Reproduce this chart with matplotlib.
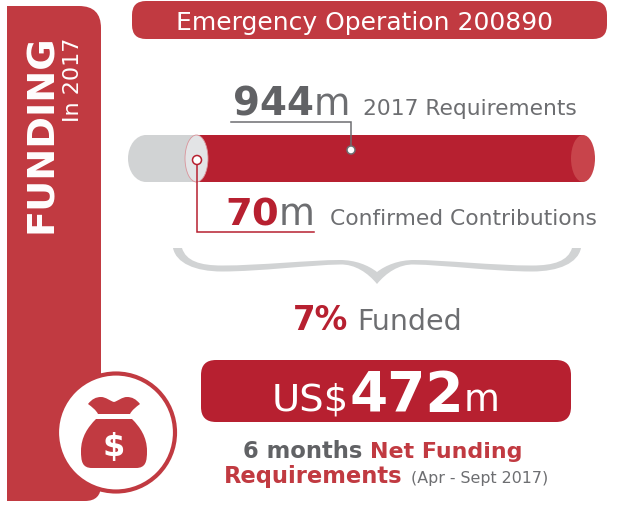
import matplotlib
matplotlib.use("Agg")
import matplotlib.pyplot as plt
from matplotlib.patches import PathPatch, Circle, Ellipse, Rectangle
from matplotlib.path import Path

operation = "Emergency Operation 200890"
requirements = 944
contributions = 70
funded_pct = 7
net_requirements = 472

RED = "#B72030"
PANEL = "#C13A41"
GREY = "#D1D3D4"
TXT = "#6D6E71"
DARK = "#616265"

plt.rcParams["font.family"] = ["DejaVu Sans"]
fig = plt.figure(figsize=(6.2, 5.06), dpi=100)
ax = fig.add_axes([0, 0, 1, 1])
ax.set_xlim(0, 620)
ax.set_ylim(506, 0)
ax.axis("off")


def rrect(x0, y0, x1, y1, tl, tr, br, bl, **kw):
    M, L, C = Path.MOVETO, Path.LINETO, Path.CURVE3
    v = [(x0 + tl, y0), (x1 - tr, y0), (x1, y0), (x1, y0 + tr), (x1, y1 - br), (x1, y1),
         (x1 - br, y1), (x0 + bl, y1), (x0, y1), (x0, y1 - bl), (x0, y0 + tl), (x0, y0),
         (x0 + tl, y0), (x0 + tl, y0)]
    c = [M, L, C, C, L, C, C, L, C, C, L, C, C, Path.CLOSEPOLY]
    p = PathPatch(Path(v, c), **kw)
    ax.add_patch(p)
    return p


def runs(x, y, parts):
    r = fig.canvas.get_renderer()
    for s, size, weight, col, gap in parts:
        t = ax.text(x, y, s, fontsize=size, fontweight=weight, color=col, va="baseline", ha="left")
        x = ax.transData.inverted().transform(t.get_window_extent(r).get_points())[1, 0] + gap


# side panel and header
rrect(7, 7, 101, 502, 0, 22, 16, 0, fc=PANEL, ec="none", zorder=1)
rrect(132, 2, 607, 40, 14, 14, 14, 14, fc=PANEL, ec="none", zorder=1)
ax.text(364, 30, operation, fontsize=18, color="white", ha="center", va="baseline")
ax.text(42, 134, "FUNDING", fontsize=27.5, fontweight="bold", color="white", rotation=90,
        ha="center", va="center", rotation_mode="anchor")
ax.text(73, 80, "In 2017", fontsize=16, color="white", rotation=90, ha="center", va="center",
        rotation_mode="anchor")

# cylinder
ax.add_patch(Ellipse((146, 159.5), 36, 47, fc=GREY, ec="none", zorder=2))
ax.add_patch(Rectangle((146, 136), 50, 47, fc=GREY, ec="none", zorder=2))
ax.add_patch(Rectangle((196, 136), 387, 47, fc=RED, ec="none", zorder=2))
ax.add_patch(Ellipse((583, 159.5), 24, 47, fc="#C8444B", ec="none", zorder=3))
ax.add_patch(Ellipse((196.5, 159.5), 23, 47, fc="#E3E4E6", ec="#D9939A", lw=0.6, zorder=3))

# 944 callout
ax.plot([231, 351, 351], [122.5, 122.5, 151], color=TXT, lw=1.1, zorder=4, solid_joinstyle="miter")
ax.add_patch(Circle((351, 151), 4, fc="white", ec=TXT, lw=1.1, zorder=5))
runs(233, 115, [(f"{requirements}", 28, "bold", DARK, 0), ("m", 27, "normal", TXT, 13),
                ("2017 Requirements", 15.7, "normal", TXT, 0)])

# 70 callout
ax.plot([197, 197, 314], [161, 232.5, 232.5], color=RED, lw=1.1, zorder=4, solid_joinstyle="miter")
ax.add_patch(Circle((197, 161), 4.5, fc="white", ec=RED, lw=1.1, zorder=5))
runs(225, 225, [(f"{contributions}", 27.7, "bold", RED, 0), ("m", 26.6, "normal", TXT, 15),
                ("Confirmed Contributions", 15.7, "normal", TXT, 0)])

# brace
C4 = Path.CURVE4
left_lower = [(173, 249), (176, 264), (195, 272.5), (222, 272.5), (260, 272.5), (310, 266),
              (340, 265.5), (355, 265), (368, 274), (377, 285)]
left_upper = [(377, 273), (368, 266), (355, 261), (340, 261), (310, 261), (260, 266.5),
              (222, 266.5), (200, 266.5), (186, 262), (182, 249)]
right_lower = [(754 - x, y) for x, y in reversed(left_lower)]
right_upper = [(754 - x, y) for x, y in reversed(left_upper)]
verts = left_lower + right_lower[1:] + [right_upper[0]] + right_upper[1:] + left_upper[1:] + [left_lower[0]]
codes = ([Path.MOVETO] + [C4] * 18 + [Path.LINETO] + [C4] * 18 + [Path.LINETO])
ax.add_patch(PathPatch(Path(verts, codes), fc=GREY, ec="none", zorder=2))

runs(293, 330, [(f"{funded_pct}%", 23.5, "bold", RED, 9), ("Funded", 20.5, "normal", TXT, 0)])

# net funding pill
rrect(201, 361, 571, 423, 15, 15, 15, 15, fc=RED, ec="none", zorder=1)
runs(272, 411, [("US$", 27.7, "normal", "white", 0),
                (f"{net_requirements}", 39.5, "bold", "white", 0),
                ("m", 26.5, "normal", "white", 0)])

runs(243, 458, [("6 months", 16.3, "bold", DARK, 8), ("Net Funding", 15.9, "bold", PANEL, 0)])
runs(224, 483, [("Requirements", 16.3, "bold", PANEL, 8), ("(Apr - Sept 2017)", 11.4, "normal", TXT, 0)])

# money bag icon
ax.add_patch(Circle((116, 433.5), 59, fc="white", ec=PANEL, lw=3, zorder=3))
bag_top = Path(
    [(88, 405), (92, 400), (96, 398), (101, 398), (106, 398), (110, 402), (114, 403),
     (118, 402), (122, 398), (127, 398), (132, 398), (136, 400), (140, 405),
     (136, 408), (132, 411), (130, 415), (98, 415), (96, 411), (92, 408), (88, 405)],
    [Path.MOVETO] + [C4] * 15 + [Path.LINETO] + [C4] * 3)
ax.add_patch(PathPatch(bag_top, fc=PANEL, ec="none", zorder=4))
bag = Path(
    [(96, 420), (132, 420), (140, 428), (147, 438), (147, 452), (147, 462), (146, 469), (136, 469),
     (92, 469), (82, 469), (81, 462), (81, 452), (81, 438), (88, 428), (96, 420)],
    [Path.MOVETO, Path.LINETO, C4, C4, C4, C4, C4, C4, Path.LINETO, C4, C4, C4, C4, C4, C4])
ax.add_patch(PathPatch(bag, fc=PANEL, ec="none", zorder=4))
ax.text(114, 456, "$", fontsize=23, fontweight="bold", color="white", ha="center", va="baseline", zorder=5)

fig.savefig("out.png", dpi=100)
